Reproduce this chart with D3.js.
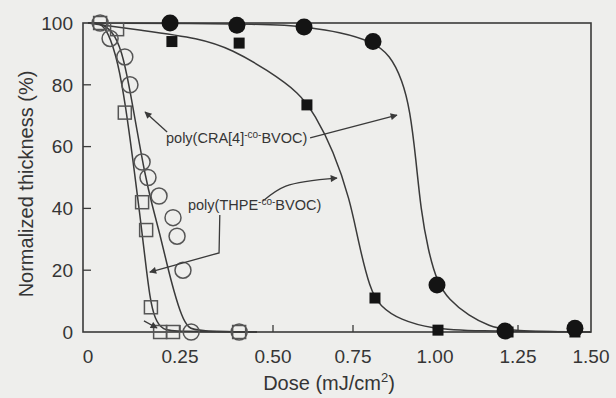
<!DOCTYPE html>
<html>
<head>
<meta charset="utf-8">
<script src="https://d3js.org/d3.v7.min.js"></script>
<style>
  body { margin: 0; background: #eeeeec; }
  svg { display: block; }
  text { font-family: Arial, "Liberation Sans", Helvetica, sans-serif; fill: #353535; }
</style>
</head>
<body>
<svg width="616" height="398"></svg>
<script>
// axis ticks
var xTicks = [0, 0.25, 0.5, 0.75, 1.0, 1.25, 1.5];
var xTickLabels = ["0", "0.25", "0.50", "0.75", "1.00", "1.25", "1.50"];
var yTicks = [0, 20, 40, 60, 80, 100];

// measured points [dose, normalized thickness]
var openSquares = [[0.033, 100], [0.079, 98], [0.100, 71], [0.147, 42], [0.158, 33],
    [0.171, 8], [0.196, 0], [0.231, 0], [0.409, 0]];
var openCircles = [[0.033, 100], [0.060, 95], [0.100, 89], [0.114, 80], [0.147, 55],
    [0.163, 50], [0.193, 44], [0.231, 37], [0.242, 31], [0.258, 20], [0.280, 0], [0.409, 0]];
var filledCircles = [[0.223, 100], [0.403, 99.3], [0.597, 98.7], [0.811, 94], [1.006, 15.2],
    [1.211, 0.3], [1.445, 1.2]];
var filledSquares = [[0.228, 94], [0.409, 93.5], [0.606, 73.5], [0.817, 11], [1.009, 0.6],
    [1.220, 0], [1.445, 0]];

// fitted curves
var openSquareFit = [[0, 100], [0.033, 100], [0.054, 97.4], [0.082, 87.4], [0.103, 72.5],
    [0.122, 55.7], [0.141, 37.9], [0.155, 23.9], [0.168, 11], [0.182, 3.9], [0.204, 0.6],
    [0.236, 0.2], [0.457, 0]];
var openCircleFit = [[0, 100], [0.033, 100], [0.065, 97.7], [0.092, 91.3], [0.114, 78.3],
    [0.133, 65.4], [0.155, 50.8], [0.174, 41.1], [0.196, 31.4], [0.215, 21.7], [0.234, 12.9],
    [0.255, 4.9], [0.272, 1.3], [0.296, 0.3], [0.457, 0]];
var filledCircleFit = [[0, 100], [0.52, 99.7], [0.597, 98.7], [0.709, 97.1], [0.811, 93.9],
    [0.863, 89.6], [0.900, 81.6], [0.924, 71.8], [0.942, 55.7], [0.957, 39.5], [0.979, 26.5],
    [1.006, 16.2], [1.042, 10.4], [1.102, 5.2], [1.163, 1.9], [1.223, 0.3], [1.5, 0]];
var filledSquareFit = [[0, 100], [0.141, 97.7], [0.304, 95.1], [0.392, 91.3], [0.484, 84.8],
    [0.584, 77.3], [0.631, 70.2], [0.688, 58.9], [0.741, 42.7], [0.765, 29.8], [0.802, 13.6],
    [0.832, 8.4], [0.893, 3.9], [0.994, 1.0], [1.105, 0.3], [1.5, 0]];

function drawChart() {
    var svg = d3.select("svg");

    var plotLeft = 83, plotRight = 591, plotTop = 23, plotBottom = 332;

    // the printed axis is not evenly spaced, so use a piecewise scale
    var x = d3.scaleLinear()
        .domain(xTicks)
        .range([88, 180, 273, 353, 435, 518, 591]);
    var y = d3.scaleLinear()
        .domain([0, 100])
        .range([plotBottom, plotTop]);

    var ink = "#3a3a3a";

    svg.append("defs").append("marker")
        .attr("id", "arrow")
        .attr("viewBox", "0 0 10 10")
        .attr("refX", 9).attr("refY", 5)
        .attr("markerWidth", 9).attr("markerHeight", 7)
        .attr("markerUnits", "userSpaceOnUse")
        .attr("orient", "auto")
        .append("path")
        .attr("d", "M0,0L10,5L0,10z")
        .attr("fill", ink);

    // frame
    svg.append("rect")
        .attr("x", plotLeft).attr("y", plotTop)
        .attr("width", plotRight - plotLeft).attr("height", plotBottom - plotTop)
        .attr("fill", "none")
        .attr("stroke", ink)
        .attr("stroke-width", 1.6);

    // inward ticks
    svg.append("g").selectAll("line")
        .data(yTicks.filter(d => d > 0 && d < 100))
        .enter().append("line")
        .attr("x1", plotLeft).attr("x2", plotLeft + 8)
        .attr("y1", d => y(d)).attr("y2", d => y(d))
        .attr("stroke", ink).attr("stroke-width", 1.3);

    svg.append("g").selectAll("line")
        .data(xTicks.filter(d => d > 0 && d < 1.5))
        .enter().append("line")
        .attr("x1", d => x(d)).attr("x2", d => x(d))
        .attr("y1", plotBottom).attr("y2", plotBottom - 7)
        .attr("stroke", ink).attr("stroke-width", 1.3);

    // tick labels
    svg.append("g").selectAll("text")
        .data(yTicks)
        .enter().append("text")
        .attr("x", 73)
        .attr("y", d => y(d))
        .attr("dy", "0.36em")
        .attr("text-anchor", "end")
        .style("font-size", "19px")
        .text(d => d);

    svg.append("g").selectAll("text")
        .data(xTicks)
        .enter().append("text")
        .attr("x", d => x(d))
        .attr("y", 363)
        .attr("text-anchor", "middle")
        .style("font-size", "19px")
        .text((d, i) => xTickLabels[i]);

    // axis titles
    var xTitle = svg.append("text")
        .attr("x", 329).attr("y", 390)
        .attr("text-anchor", "middle")
        .style("font-size", "20px");
    xTitle.append("tspan").text("Dose (mJ/cm");
    xTitle.append("tspan").attr("dy", -8).style("font-size", "13px").text("2");
    xTitle.append("tspan").attr("dy", 8).text(")");

    svg.append("text")
        .attr("transform", "translate(33,184) rotate(-90)")
        .attr("text-anchor", "middle")
        .style("font-size", "20px")
        .text("Normalized thickness (%)");

    // fitted curves
    var line = d3.line()
        .x(d => x(d[0]))
        .y(d => y(d[1]))
        .curve(d3.curveBasis);

    [openSquareFit, openCircleFit, filledCircleFit, filledSquareFit].forEach(function (fit) {
        svg.append("path")
            .attr("d", line(fit))
            .attr("fill", "none")
            .attr("stroke", ink)
            .attr("stroke-width", 1.5);
    });

    // markers
    svg.append("g").selectAll("rect")
        .data(openSquares)
        .enter().append("rect")
        .attr("x", d => x(d[0]) - 6.5).attr("y", d => y(d[1]) - 6.5)
        .attr("width", 13).attr("height", 13)
        .attr("fill", "none")
        .attr("stroke", "#555")
        .attr("stroke-width", 1.5);

    svg.append("g").selectAll("circle")
        .data(openCircles)
        .enter().append("circle")
        .attr("cx", d => x(d[0])).attr("cy", d => y(d[1]))
        .attr("r", 8)
        .attr("fill", "none")
        .attr("stroke", "#555")
        .attr("stroke-width", 1.5);

    svg.append("g").selectAll("rect")
        .data(filledSquares)
        .enter().append("rect")
        .attr("x", d => x(d[0]) - 5.5).attr("y", d => y(d[1]) - 5.5)
        .attr("width", 11).attr("height", 11)
        .attr("fill", "#141414");

    svg.append("g").selectAll("circle")
        .data(filledCircles)
        .enter().append("circle")
        .attr("cx", d => x(d[0])).attr("cy", d => y(d[1]))
        .attr("r", 8.5)
        .attr("fill", "#141414");

    // annotations
    function label(pos, name) {
        var t = svg.append("text")
            .attr("x", x(pos[0])).attr("y", y(pos[1]))
            .style("font-size", "14.5px");
        t.append("tspan").text("poly(" + name);
        t.append("tspan").attr("dy", -5).style("font-size", "10px").text("-co-");
        t.append("tspan").attr("dy", 5).text("BVOC)");
    }

    var arrowLine = d3.line().x(d => x(d[0])).y(d => y(d[1]));

    function arrow(points, curve) {
        svg.append("path")
            .attr("d", arrowLine.curve(curve || d3.curveLinear)(points))
            .attr("fill", "none")
            .attr("stroke", ink)
            .attr("stroke-width", 1.3)
            .attr("marker-end", "url(#arrow)");
    }

    label([0.212, 61.2], "CRA[4]");
    label([0.2715, 39.5], "THPE");

    arrow([[0.215, 64.7], [0.155, 71.2]]);
    arrow([[0.616, 62.8], [0.884, 70.2]]);
    arrow([[0.357, 37.9], [0.355, 25.6], [0.168, 19.4]]);
    arrow([[0.152, 3.6], [0.1875, 1.3]]);
    arrow([[0.473, 42.4], [0.54, 47.2], [0.70, 49.8]], d3.curveCatmullRom);
}

drawChart();
</script>
</body>
</html>
